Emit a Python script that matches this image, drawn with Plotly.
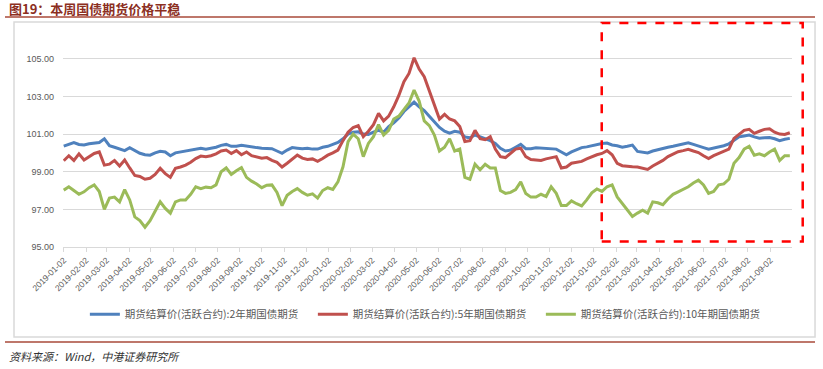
import pandas as pd
import plotly.graph_objects as go

# ---- data (weekly readings, 2019-01-02 .. 2021-09-29) ----
dates = pd.date_range("2019-01-02", periods=144, freq="7D")

tf2 = [100.36, 100.45, 100.55, 100.45, 100.42, 100.48, 100.52, 100.55, 100.75, 100.38,
       100.30, 100.20, 100.12, 100.28, 100.12, 99.98, 99.90, 99.88, 100.00, 100.08,
       100.05, 99.85, 100.00, 100.05, 100.10, 100.15, 100.22, 100.25, 100.20, 100.25,
       100.30, 100.40, 100.45, 100.35, 100.35, 100.40, 100.35, 100.30, 100.28, 100.25,
       100.25, 100.22, 100.10, 99.98, 100.15, 100.28, 100.25, 100.22, 100.25, 100.20,
       100.20, 100.30, 100.35, 100.45, 100.55, 100.75, 101.00, 101.10, 101.12, 101.00,
       100.98, 101.10, 101.20, 101.10, 101.40, 101.60, 101.85, 102.20, 102.45, 102.70,
       102.45, 102.25, 101.95, 101.65, 101.35, 101.15, 101.05, 101.15, 101.10, 100.85,
       100.80, 100.95, 100.85, 100.75, 100.65, 100.50, 100.24, 100.10, 100.15, 100.30,
       100.45, 100.22, 100.22, 100.27, 100.26, 100.24, 100.22, 100.20, 100.05, 99.90,
       100.05, 100.15, 100.28, 100.32, 100.38, 100.45, 100.50, 100.52, 100.42, 100.38,
       100.30, 100.35, 100.41, 100.08, 100.05, 100.00, 100.10, 100.18, 100.22, 100.30,
       100.35, 100.42, 100.48, 100.54, 100.45, 100.35, 100.28, 100.20, 100.25, 100.30,
       100.38, 100.48, 100.65, 100.85, 100.90, 100.95, 100.85, 100.78, 100.80, 100.82,
       100.75, 100.65, 100.72, 100.77]

tf5 = [99.58, 99.85, 99.60, 99.95, 99.62, 99.80, 99.97, 100.05, 99.35, 99.40,
       99.60, 99.30, 99.62, 99.20, 98.80, 98.75, 98.60, 98.65, 98.85, 99.18,
       98.90, 98.70, 99.18, 99.25, 99.35, 99.50, 99.70, 99.83, 99.80, 99.85,
       99.95, 100.10, 100.15, 99.97, 100.12, 99.90, 100.05, 99.85, 99.78, 99.72,
       99.75, 99.60, 99.50, 99.25, 99.45, 99.65, 99.88, 99.72, 99.65, 99.68,
       99.55, 99.70, 99.88, 100.00, 100.15, 100.65, 101.10, 101.35, 101.45, 100.86,
       101.15, 101.50, 102.10, 101.70, 101.95, 102.45, 103.05, 103.78, 104.22, 105.05,
       104.45, 104.05, 103.30, 102.60, 101.80, 102.05, 101.80, 101.70, 101.40, 100.60,
       100.65, 101.20, 100.75, 100.70, 100.86, 100.20, 99.80, 99.75, 99.97, 100.20,
       100.25, 99.80, 99.65, 99.64, 99.60, 99.68, 99.75, 99.80, 99.20, 99.25,
       99.45, 99.48, 99.55, 99.68, 99.80, 99.90, 99.97, 100.12, 99.90, 99.45,
       99.32, 99.28, 99.26, 99.25, 99.20, 99.12, 99.30, 99.44, 99.60, 99.80,
       99.95, 100.06, 100.12, 100.19, 100.10, 100.02, 99.85, 99.70, 99.85, 99.97,
       100.08, 100.20, 100.77, 101.00, 101.20, 101.25, 101.04, 101.15, 101.25, 101.28,
       101.10, 101.00, 100.98, 101.07]

tf10 = [98.02, 98.20, 98.00, 97.80, 97.93, 98.15, 98.30, 97.95, 97.00, 97.60,
        97.65, 97.40, 98.05, 97.50, 96.60, 96.40, 96.05, 96.40, 96.90, 97.40,
        97.05, 96.80, 97.40, 97.50, 97.50, 97.80, 98.20, 98.10, 98.18, 98.15,
        98.30, 99.00, 99.20, 98.85, 99.05, 99.22, 98.70, 98.50, 98.35, 98.15,
        98.28, 98.30, 97.90, 97.20, 97.75, 97.95, 98.10, 97.90, 97.75, 97.82,
        97.60, 98.00, 98.15, 98.06, 98.46, 99.26, 100.60, 101.00, 100.75, 99.80,
        100.50, 100.86, 101.50, 100.95, 101.20, 101.80, 101.95, 102.30, 102.65, 103.34,
        102.75, 101.70, 101.45, 100.95, 100.10, 100.30, 100.75, 100.10, 100.20, 98.70,
        98.60, 99.40, 99.10, 99.40, 99.20, 99.20, 98.00, 97.85, 97.90, 98.05,
        98.46, 97.84, 97.65, 97.65, 97.80, 97.68, 98.20, 97.85, 97.20, 97.20,
        97.45, 97.30, 97.18, 97.50, 97.88, 98.08, 97.95, 98.20, 98.30, 97.66,
        97.30, 96.96, 96.62, 96.80, 96.95, 96.80, 97.40, 97.35, 97.25, 97.55,
        97.80, 97.93, 98.06, 98.20, 98.40, 98.55, 98.30, 97.85, 97.95, 98.30,
        98.35, 98.60, 99.45, 99.75, 100.20, 100.35, 99.88, 99.95, 99.85, 100.05,
        100.20, 99.60, 99.85, 99.85]

series_names = ["期货结算价(活跃合约):2年期国债期货",
                "期货结算价(活跃合约):5年期国债期货",
                "期货结算价(活跃合约):10年期国债期货"]
series_colors = ["#4F81BD", "#C0504D", "#9BBB59"]

tick_dates = pd.date_range("2019-01-01", "2021-09-01", freq="MS") + pd.Timedelta(days=1)
tick_text = [d.strftime("%Y-%m-%d") for d in tick_dates]
y_ticks = [95, 97, 99, 101, 103, 105]

title_text = "图19：本周国债期货价格平稳"
source_text = "资料来源：Wind，中港证券研究所"

# ---- figure ----
fig = go.Figure()
for name, vals, col in zip(series_names, [tf2, tf5, tf10], series_colors):
    fig.add_trace(go.Scatter(x=dates, y=vals, name=name, mode="lines",
                             line=dict(color=col, width=3)))

fig.update_layout(
    width=823, height=369,
    margin=dict(l=63, r=31, t=55, b=122),
    paper_bgcolor="white", plot_bgcolor="white",
    font=dict(family="Noto Sans CJK SC", color="#595959"),
    showlegend=True,
    legend=dict(orientation="h", x=0.03, xanchor="left", y=-0.35, yanchor="middle",
                font=dict(family="Noto Sans CJK SC", size=10.5, color="#595959"),
                itemwidth=30, entrywidth=183, entrywidthmode="pixels",
                tracegroupgap=0, bgcolor="rgba(0,0,0,0)"),
    xaxis=dict(type="date", range=["2019-01-01", "2021-10-02"],
               tickvals=tick_dates, ticktext=tick_text, tickangle=-45,
               tickfont=dict(family="Liberation Sans", size=8.5, color="#595959"),
               showgrid=False, zeroline=False,
               showline=True, linecolor="#d9d9d9", linewidth=1,
               ticks="outside", ticklen=4, tickcolor="#d9d9d9"),
    yaxis=dict(range=[95, 105.2], tickvals=y_ticks, tickformat=".2f",
               tickfont=dict(family="Liberation Sans", size=9, color="#595959"),
               showgrid=True, gridcolor="#d9d9d9", gridwidth=1,
               zeroline=False, showline=False, ticks="", ticklabelstandoff=8),
)

# page decorations
fig.add_annotation(xref="paper", yref="paper", x=-0.077, y=1.242,
                   xanchor="left", yanchor="middle", showarrow=False,
                   text="<b>" + title_text + "</b>",
                   font=dict(family="Noto Sans CJK SC", size=13, color="#8C2F1F"))
fig.add_shape(type="line", xref="paper", yref="paper", x0=-0.0796, x1=1.0316,
              y0=1.198, y1=1.198, line=dict(color="#A94A3A", width=1.5))
fig.add_shape(type="rect", xref="paper", yref="paper", x0=-0.0672, x1=1.0316,
              y0=-0.469, y1=1.172, line=dict(color="#d9d9d9", width=1.5), layer="below")
fig.add_shape(type="line", xref="paper", yref="paper", x0=-0.0796, x1=1.0316,
              y0=-0.495, y1=-0.495, line=dict(color="#A94A3A", width=1.5))
fig.add_shape(type="rect", xref="paper", yref="paper", x0=0.739, x1=1.0147,
              y0=0.028, y1=1.167, line=dict(color="#FF0000", width=2.5, dash="dash"))
fig.add_annotation(xref="paper", yref="paper", x=-0.077, y=-0.568,
                   xanchor="left", yanchor="middle", showarrow=False,
                   text="<i>" + source_text + "</i>",
                   font=dict(family="Noto Sans CJK SC", size=11, color="#333333"))

fig.write_html("out.html", config={"displayModeBar": False},
               post_script="document.body.style.margin='0';")
